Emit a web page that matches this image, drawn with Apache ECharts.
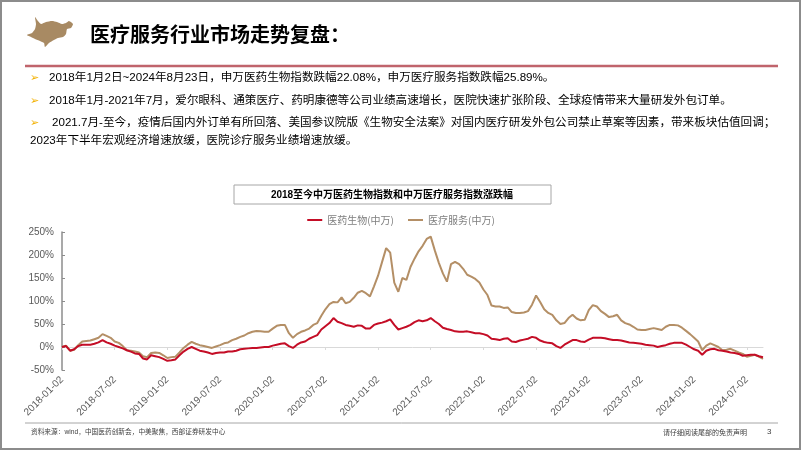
<!DOCTYPE html>
<html>
<head>
<meta charset="utf-8">
<script src="https://cdn.jsdelivr.net/npm/echarts@6/dist/echarts.min.js"></script>
<style>
html,body{margin:0;padding:0;background:#fff;}
#main{width:802px;height:451px;}
</style>
</head>
<body>
<div id="main"></div>
<script>
// ---- data ----
const firstHalfDays = ['01-02','01-16','01-30','02-13','02-27','03-13','03-27','04-10','04-24','05-08','05-22','06-05','06-19'];
const secondHalfDays = ['07-02','07-16','07-30','08-13','08-27','09-10','09-24','10-08','10-22','11-05','11-19','12-03','12-17'];
const fullYears = [2018, 2019, 2020, 2021, 2022, 2023];
const lastDates = ['2024-01-02','2024-01-16','2024-01-30','2024-02-13','2024-02-27','2024-03-13','2024-03-27','2024-04-10','2024-04-24','2024-05-08','2024-05-22','2024-06-05','2024-06-19','2024-07-02','2024-07-16','2024-07-30','2024-08-13','2024-08-23'];

// 医药生物(申万) cumulative change, %
const bioValues = [
  0, 2, -8, -5, 2, 5, 5, 5, 7, 10, 15, 10, 7,
  3, 0, -3, -7, -10, -14, -15, -25, -27, -18, -20, -22, -26,
  -30, -29, -27, -18, -10, -4, 0, -4, -8, -10, -12, -15, -13,
  -12, -12, -10, -10, -8, -5, -4, -3, -2, -2, -1, 0, 0,
  3, 5, 7, 8, 2, -2, 5, 10, 12, 18, 22, 26, 38,
  45, 52, 63, 55, 52, 48, 46, 44, 47, 46, 40, 40, 48,
  51, 53, 56, 60, 48, 38, 41, 44, 48, 54, 58, 56, 58,
  63, 56, 50, 42, 39, 37, 34, 33, 33, 34, 32, 30, 30,
  28, 25, 18, 17, 15, 18, 19, 12, 11, 14, 16, 18, 22,
  20, 14, 11, 9, 8, 2, -2, 5, 10, 15, 15, 12, 11,
  16, 20, 20, 20, 19, 17, 15, 15, 14, 12, 10, 9, 8,
  7, 5, 4, 3, 0, 2, 4, 7, 9, 9, 9, 5, 0,
  -5, -8, -17, -8, -5, -4, -7, -8, -10, -12, -13, -15, -19,
  -18, -17, -17, -20, -22.08
];
// 医疗服务(申万) cumulative change, %
const serviceValues = [
  0, 3, -8, -6, 4, 12, 13, 14, 17, 20, 28, 24, 20,
  12, 9, 2, -7, -8, -10, -12, -20, -22, -13, -12, -13, -18,
  -24, -22, -21, -12, -2, 5, 11, 7, 4, 2, 0, -2, 1,
  4, 8, 10, 15, 18, 22, 25, 30, 33, 35, 34, 33, 33,
  40, 46, 48, 48, 30, 20, 28, 33, 36, 40, 48, 52, 68,
  82, 93, 98, 97, 108, 95, 98, 107, 118, 122, 117, 110, 132,
  155, 185, 215, 205, 140, 120, 150, 146, 174, 192, 208, 220, 235,
  240, 210, 183, 160, 142, 180, 185, 180, 170, 157, 153, 148, 140,
  125, 113, 90, 88, 88, 85, 86, 76, 74, 74, 75, 78, 92,
  112, 98, 82, 74, 70, 58, 50, 52, 63, 70, 62, 58, 59,
  80, 91, 88, 78, 72, 65, 67, 70, 58, 52, 49, 44, 38,
  37, 37, 39, 41, 39, 37, 44, 48, 48, 47, 42, 35, 28,
  20, 12, -7, 3, 8, 4, 0, -7, -6, -4, -8, -12, -15,
  -21, -19, -17, -21, -25.89
];
const seriesNames = ['医药生物(中万)', '医疗服务(中万)'];
const yTicks = { min: -50, max: 250, step: 50 };

// ---- categories ----
const categories = [];
fullYears.forEach(y => {
  firstHalfDays.forEach(d => categories.push(y + '-' + d));
  secondHalfDays.forEach(d => categories.push(y + '-' + d));
});
lastDates.forEach(d => categories.push(d));

const chart = echarts.init(document.getElementById('main'));
const latinCjk = '"Liberation Sans", "Noto Sans CJK SC", sans-serif';
const cjk = '"Noto Sans CJK SC", sans-serif';

const bullets = [
  { x: 49, y: 78, text: '2018年1月2日~2024年8月23日，申万医药生物指数跌幅22.08%，申万医疗服务指数跌幅25.89%。' },
  { x: 49, y: 101, text: '2018年1月-2021年7月，爱尔眼科、通策医疗、药明康德等公司业绩高速增长，医院快速扩张阶段、全球疫情带来大量研发外包订单。' },
  { x: 52, y: 123, text: '2021.7月-至今，疫情后国内外订单有所回落、美国参议院版《生物安全法案》对国内医疗研发外包公司禁止草案等因素，带来板块估值回调；' },
  { x: 30, y: 141, text: '2023年下半年宏观经济增速放缓，医院诊疗服务业绩增速放缓。' }
];
const arrows = [78, 101, 123];

const bullShape = [[27,35],[32,33],[35,29],[36,24],[35,17],[38,21],[41,24],[46,22],[52,21],[57,22],[62,24],[66,23],[69,21],[73,24],[71,28],[67,29],[66,34],[63,37],[58,38],[54,40],[49,43],[45,47],[44,43],[40,41],[35,39],[31,37]];

const graphics = [
  { type: 'rect', shape: { x: 1, y: 1, width: 799, height: 448 }, style: { fill: 'none', stroke: '#8c8c8c', lineWidth: 2 }, silent: true },
  { type: 'polygon', shape: { points: bullShape, smooth: 0.2 }, style: { fill: '#a88a63' }, silent: true },
  { type: 'text', style: { text: '医疗服务行业市场走势复盘：', x: 90, y: 34, font: 'bold 20px ' + cjk, fill: '#000', verticalAlign: 'middle' }, silent: true },
  { type: 'line', shape: { x1: 25, y1: 66, x2: 778, y2: 66 }, style: { stroke: '#c0646c', lineWidth: 2.5 }, silent: true },
  { type: 'line', shape: { x1: 25, y1: 423, x2: 778, y2: 423 }, style: { stroke: '#a6a6a6', lineWidth: 1 }, silent: true },
  { type: 'rect', shape: { x: 234, y: 185, width: 317, height: 19 }, style: { fill: '#fff', stroke: '#a6a6a6', lineWidth: 1 }, silent: true },
  { type: 'text', style: { text: '2018至今中万医药生物指数和中万医疗服务指数涨跌幅', x: 392, y: 195, font: 'bold 10px ' + latinCjk, fill: '#000', align: 'center', verticalAlign: 'middle' }, silent: true },
  { type: 'text', style: { text: '资料来源：wind，中国医药创新会，中美聚焦，西部证券研发中心', x: 31, y: 432, font: '6.7px ' + latinCjk, fill: '#404040', verticalAlign: 'middle' }, silent: true },
  { type: 'text', style: { text: '请仔细阅读尾部的免责声明', x: 747, y: 432, font: '7px ' + cjk, fill: '#404040', align: 'right', verticalAlign: 'middle' }, silent: true },
  { type: 'text', style: { text: '3', x: 767, y: 432, font: '8px "Liberation Sans"', fill: '#404040', verticalAlign: 'middle' }, silent: true }
];
bullets.forEach(b => graphics.push({ type: 'text', style: { text: b.text, x: b.x, y: b.y, font: '11.6px ' + latinCjk, fill: '#000', verticalAlign: 'middle' }, silent: true }));
arrows.forEach(y => graphics.push({ type: 'text', style: { text: '➢', x: 30, y: y, font: '11px "DejaVu Sans"', fill: '#f2b000', verticalAlign: 'middle' }, silent: true }));

chart.setOption({
  animation: false,
  backgroundColor: '#fff',
  color: ['#c40d26', '#b48f66'],
  legend: {
    top: 210,
    left: 'center',
    icon: 'rect',
    itemWidth: 15,
    itemHeight: 2,
    itemGap: 14,
    textStyle: { fontSize: 10, color: '#7f7f7f', fontFamily: cjk },
    data: seriesNames
  },
  grid: { left: 62, right: 39, top: 232, bottom: 81, containLabel: false },
  xAxis: [
    {
      type: 'category',
      data: categories,
      boundaryGap: false,
      position: 'bottom',
      axisLine: { show: false, onZero: false },
      axisTick: { show: false },
      axisLabel: { interval: 12, rotate: 45, fontSize: 10, color: '#595959', fontFamily: '"Liberation Sans", sans-serif', margin: 8 }
    },
    {
      type: 'category',
      data: categories,
      boundaryGap: false,
      position: 'bottom',
      axisLine: { show: true, onZero: true, lineStyle: { color: '#d9d9d9', width: 1 } },
      axisTick: { show: true, interval: 12, length: 3, lineStyle: { color: '#d9d9d9' } },
      axisLabel: { show: false }
    }
  ],
  yAxis: {
    type: 'value',
    min: yTicks.min,
    max: yTicks.max,
    interval: yTicks.step,
    axisLine: { show: true, lineStyle: { color: '#8c8c8c', width: 1.5 } },
    axisTick: { show: true, inside: true, length: 3, lineStyle: { color: '#8c8c8c' } },
    splitLine: { show: false },
    axisLabel: { formatter: '{value}%', fontSize: 10, color: '#595959', fontFamily: '"Liberation Sans", sans-serif', margin: 8 }
  },
  series: [
    { name: seriesNames[0], type: 'line', data: bioValues, symbol: 'none', lineStyle: { width: 2 }, z: 3 },
    { name: seriesNames[1], type: 'line', data: serviceValues, symbol: 'none', lineStyle: { width: 2 }, z: 2 }
  ],
  graphic: graphics
});
</script>
</body>
</html>
